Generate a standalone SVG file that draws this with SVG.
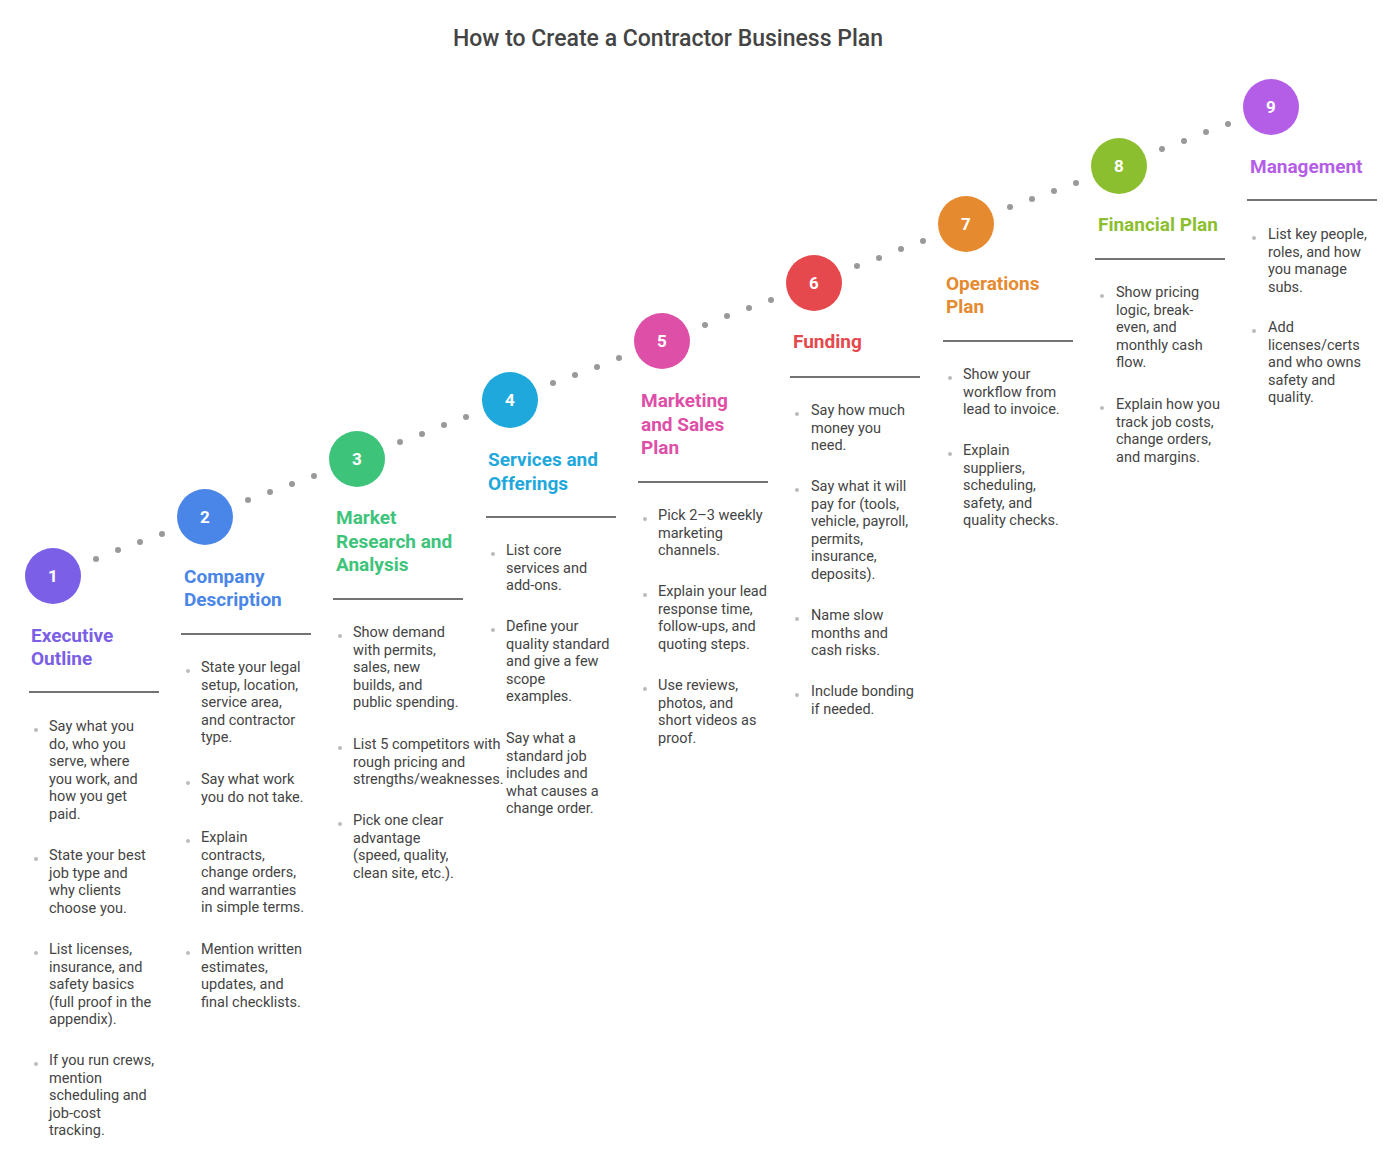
<svg xmlns="http://www.w3.org/2000/svg" width="1400" height="1173" viewBox="0 0 1400 1173">
<style>
text{font-family:Roboto,"Liberation Sans",sans-serif}
.t{font-size:14.5px;fill:#444}
.h{font-size:19px;font-weight:700}
.n{font-size:17px;font-weight:700;fill:#fff;text-anchor:middle}
.ln{stroke:#444;stroke-width:1.5}
.d{fill:#999}
.b{fill:#bbb}
</style>
<rect width="1400" height="1173" fill="#fff"/>
<text x="668" y="46" text-anchor="middle" font-size="23" font-weight="500" fill="#444">How to Create a Contractor Business Plan</text>
<g id="connectors">
<circle class="d" cx="96" cy="559" r="3"/><circle class="d" cx="118" cy="550" r="3"/><circle class="d" cx="140" cy="542" r="3"/><circle class="d" cx="162" cy="534" r="3"/>
<circle class="d" cx="248" cy="500" r="3"/><circle class="d" cx="270" cy="492" r="3"/><circle class="d" cx="292" cy="484" r="3"/><circle class="d" cx="314" cy="476" r="3"/>
<circle class="d" cx="400" cy="442" r="3"/><circle class="d" cx="422" cy="434" r="3"/><circle class="d" cx="444" cy="425" r="3"/><circle class="d" cx="466" cy="417" r="3"/>
<circle class="d" cx="553" cy="383" r="3"/><circle class="d" cx="575" cy="375" r="3"/><circle class="d" cx="597" cy="367" r="3"/><circle class="d" cx="619" cy="358" r="3"/>
<circle class="d" cx="705" cy="325" r="3"/><circle class="d" cx="727" cy="316" r="3"/><circle class="d" cx="749" cy="308" r="3"/><circle class="d" cx="771" cy="300" r="3"/>
<circle class="d" cx="857" cy="266" r="3"/><circle class="d" cx="879" cy="258" r="3"/><circle class="d" cx="901" cy="249" r="3"/><circle class="d" cx="923" cy="241" r="3"/>
<circle class="d" cx="1010" cy="207" r="3"/><circle class="d" cx="1032" cy="199" r="3"/><circle class="d" cx="1054" cy="191" r="3"/><circle class="d" cx="1076" cy="183" r="3"/>
<circle class="d" cx="1162" cy="149" r="3"/><circle class="d" cx="1184" cy="141" r="3"/><circle class="d" cx="1206" cy="132" r="3"/><circle class="d" cx="1228" cy="124" r="3"/>
</g>
<g id="step1">
<circle cx="53" cy="576" r="28" fill="#7b5fe6"/><text class="n" x="53" y="582">1</text>
<text class="h" fill="#7b5fe6" x="31" y="642">Executive<tspan x="31" dy="23">Outline</tspan></text>
<line class="ln" x1="29" y1="692" x2="159" y2="692"/>
<circle class="b" cx="36" cy="730" r="2"/><text class="t" x="49" y="731">Say what you<tspan x="49" dy="17.5">do, who you</tspan><tspan x="49" dy="17.5">serve, where</tspan><tspan x="49" dy="17.5">you work, and</tspan><tspan x="49" dy="17.5">how you get</tspan><tspan x="49" dy="17.5">paid.</tspan></text>
<circle class="b" cx="36" cy="859" r="2"/><text class="t" x="49" y="860">State your best<tspan x="49" dy="17.5">job type and</tspan><tspan x="49" dy="17.5">why clients</tspan><tspan x="49" dy="17.5">choose you.</tspan></text>
<circle class="b" cx="36" cy="953" r="2"/><text class="t" x="49" y="954">List licenses,<tspan x="49" dy="17.5">insurance, and</tspan><tspan x="49" dy="17.5">safety basics</tspan><tspan x="49" dy="17.5">(full proof in the</tspan><tspan x="49" dy="17.5">appendix).</tspan></text>
<circle class="b" cx="36" cy="1064" r="2"/><text class="t" x="49" y="1065">If you run crews,<tspan x="49" dy="17.5">mention</tspan><tspan x="49" dy="17.5">scheduling and</tspan><tspan x="49" dy="17.5">job-cost</tspan><tspan x="49" dy="17.5">tracking.</tspan></text>
</g>
<g id="step2">
<circle cx="205" cy="517" r="28" fill="#4a86e8"/><text class="n" x="205" y="523">2</text>
<text class="h" fill="#4a86e8" x="184" y="583">Company<tspan x="184" dy="23">Description</tspan></text>
<line class="ln" x1="181" y1="634" x2="311" y2="634"/>
<circle class="b" cx="188" cy="671" r="2"/><text class="t" x="201" y="672">State your legal<tspan x="201" dy="17.5">setup, location,</tspan><tspan x="201" dy="17.5">service area,</tspan><tspan x="201" dy="17.5">and contractor</tspan><tspan x="201" dy="17.5">type.</tspan></text>
<circle class="b" cx="188" cy="783" r="2"/><text class="t" x="201" y="784">Say what work<tspan x="201" dy="17.5">you do not take.</tspan></text>
<circle class="b" cx="188" cy="841" r="2"/><text class="t" x="201" y="842">Explain<tspan x="201" dy="17.5">contracts,</tspan><tspan x="201" dy="17.5">change orders,</tspan><tspan x="201" dy="17.5">and warranties</tspan><tspan x="201" dy="17.5">in simple terms.</tspan></text>
<circle class="b" cx="188" cy="953" r="2"/><text class="t" x="201" y="954">Mention written<tspan x="201" dy="17.5">estimates,</tspan><tspan x="201" dy="17.5">updates, and</tspan><tspan x="201" dy="17.5">final checklists.</tspan></text>
</g>
<g id="step3">
<circle cx="357" cy="459" r="28" fill="#3ec47a"/><text class="n" x="357" y="465">3</text>
<text class="h" fill="#3ec47a" x="336" y="524">Market<tspan x="336" dy="23.5">Research and</tspan><tspan x="336" dy="23.5">Analysis</tspan></text>
<line class="ln" x1="333" y1="599" x2="463" y2="599"/>
<circle class="b" cx="340" cy="636" r="2"/><text class="t" x="353" y="637">Show demand<tspan x="353" dy="17.5">with permits,</tspan><tspan x="353" dy="17.5">sales, new</tspan><tspan x="353" dy="17.5">builds, and</tspan><tspan x="353" dy="17.5">public spending.</tspan></text>
<circle class="b" cx="340" cy="748" r="2"/><text class="t" x="353" y="749">List 5 competitors with<tspan x="353" dy="17.5">rough pricing and</tspan><tspan x="353" dy="17.5">strengths/weaknesses.</tspan></text>
<circle class="b" cx="340" cy="824" r="2"/><text class="t" x="353" y="825">Pick one clear<tspan x="353" dy="17.5">advantage</tspan><tspan x="353" dy="17.5">(speed, quality,</tspan><tspan x="353" dy="17.5">clean site, etc.).</tspan></text>
</g>
<g id="step4">
<circle cx="510" cy="400" r="28" fill="#1fa8dc"/><text class="n" x="510" y="406">4</text>
<text class="h" fill="#1fa8dc" x="488" y="466">Services and<tspan x="488" dy="23.5">Offerings</tspan></text>
<line class="ln" x1="486" y1="517" x2="616" y2="517"/>
<circle class="b" cx="493" cy="554" r="2"/><text class="t" x="506" y="555">List core<tspan x="506" dy="17.5">services and</tspan><tspan x="506" dy="17.5">add-ons.</tspan></text>
<circle class="b" cx="493" cy="630" r="2"/><text class="t" x="506" y="631">Define your<tspan x="506" dy="17.5">quality standard</tspan><tspan x="506" dy="17.5">and give a few</tspan><tspan x="506" dy="17.5">scope</tspan><tspan x="506" dy="17.5">examples.</tspan></text>
<text class="t" x="506" y="743">Say what a<tspan x="506" dy="17.5">standard job</tspan><tspan x="506" dy="17.5">includes and</tspan><tspan x="506" dy="17.5">what causes a</tspan><tspan x="506" dy="17.5">change order.</tspan></text>
</g>
<g id="step5">
<circle cx="662" cy="341" r="28" fill="#de4fa8"/><text class="n" x="662" y="347">5</text>
<text class="h" fill="#de4fa8" x="641" y="407">Marketing<tspan x="641" dy="23.5">and Sales</tspan><tspan x="641" dy="23.5">Plan</tspan></text>
<line class="ln" x1="638" y1="482" x2="768" y2="482"/>
<circle class="b" cx="645" cy="519" r="2"/><text class="t" x="658" y="520">Pick 2–3 weekly<tspan x="658" dy="17.5">marketing</tspan><tspan x="658" dy="17.5">channels.</tspan></text>
<circle class="b" cx="645" cy="595" r="2"/><text class="t" x="658" y="596">Explain your lead<tspan x="658" dy="17.5">response time,</tspan><tspan x="658" dy="17.5">follow-ups, and</tspan><tspan x="658" dy="17.5">quoting steps.</tspan></text>
<circle class="b" cx="645" cy="689" r="2"/><text class="t" x="658" y="690">Use reviews,<tspan x="658" dy="17.5">photos, and</tspan><tspan x="658" dy="17.5">short videos as</tspan><tspan x="658" dy="17.5">proof.</tspan></text>
</g>
<g id="step6">
<circle cx="814" cy="283" r="28" fill="#e5484d"/><text class="n" x="814" y="289">6</text>
<text class="h" fill="#e5484d" x="793" y="348">Funding</text>
<line class="ln" x1="790" y1="377" x2="920" y2="377"/>
<circle class="b" cx="797" cy="414" r="2"/><text class="t" x="811" y="415">Say how much<tspan x="811" dy="17.5">money you</tspan><tspan x="811" dy="17.5">need.</tspan></text>
<circle class="b" cx="797" cy="490" r="2"/><text class="t" x="811" y="491">Say what it will<tspan x="811" dy="17.5">pay for (tools,</tspan><tspan x="811" dy="17.5">vehicle, payroll,</tspan><tspan x="811" dy="17.5">permits,</tspan><tspan x="811" dy="17.5">insurance,</tspan><tspan x="811" dy="17.5">deposits).</tspan></text>
<circle class="b" cx="797" cy="619" r="2"/><text class="t" x="811" y="620">Name slow<tspan x="811" dy="17.5">months and</tspan><tspan x="811" dy="17.5">cash risks.</tspan></text>
<circle class="b" cx="797" cy="695" r="2"/><text class="t" x="811" y="696">Include bonding<tspan x="811" dy="17.5">if needed.</tspan></text>
</g>
<g id="step7">
<circle cx="966" cy="224" r="28" fill="#e58a2e"/><text class="n" x="966" y="230">7</text>
<text class="h" fill="#e58a2e" x="946" y="290">Operations<tspan x="946" dy="23">Plan</tspan></text>
<line class="ln" x1="943" y1="341" x2="1073" y2="341"/>
<circle class="b" cx="950" cy="378" r="2"/><text class="t" x="963" y="379">Show your<tspan x="963" dy="17.5">workflow from</tspan><tspan x="963" dy="17.5">lead to invoice.</tspan></text>
<circle class="b" cx="950" cy="454" r="2"/><text class="t" x="963" y="455">Explain<tspan x="963" dy="17.5">suppliers,</tspan><tspan x="963" dy="17.5">scheduling,</tspan><tspan x="963" dy="17.5">safety, and</tspan><tspan x="963" dy="17.5">quality checks.</tspan></text>
</g>
<g id="step8">
<circle cx="1119" cy="166" r="28" fill="#8cbf2f"/><text class="n" x="1119" y="172">8</text>
<text class="h" fill="#8cbf2f" x="1098" y="231">Financial Plan</text>
<line class="ln" x1="1095" y1="259" x2="1225" y2="259"/>
<circle class="b" cx="1102" cy="296" r="2"/><text class="t" x="1116" y="297">Show pricing<tspan x="1116" dy="17.5">logic, break-</tspan><tspan x="1116" dy="17.5">even, and</tspan><tspan x="1116" dy="17.5">monthly cash</tspan><tspan x="1116" dy="17.5">flow.</tspan></text>
<circle class="b" cx="1102" cy="408" r="2"/><text class="t" x="1116" y="409">Explain how you<tspan x="1116" dy="17.5">track job costs,</tspan><tspan x="1116" dy="17.5">change orders,</tspan><tspan x="1116" dy="17.5">and margins.</tspan></text>
</g>
<g id="step9">
<circle cx="1271" cy="107" r="28" fill="#b45ee8"/><text class="n" x="1271" y="113">9</text>
<text class="h" fill="#b45ee8" x="1250" y="173">Management</text>
<line class="ln" x1="1247" y1="200" x2="1377" y2="200"/>
<circle class="b" cx="1254" cy="238" r="2"/><text class="t" x="1268" y="239">List key people,<tspan x="1268" dy="17.5">roles, and how</tspan><tspan x="1268" dy="17.5">you manage</tspan><tspan x="1268" dy="17.5">subs.</tspan></text>
<circle class="b" cx="1254" cy="331" r="2"/><text class="t" x="1268" y="332">Add<tspan x="1268" dy="17.5">licenses/certs</tspan><tspan x="1268" dy="17.5">and who owns</tspan><tspan x="1268" dy="17.5">safety and</tspan><tspan x="1268" dy="17.5">quality.</tspan></text>
</g>
</svg>
